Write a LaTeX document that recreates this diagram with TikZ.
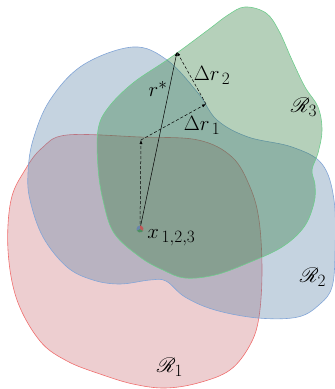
\documentclass[tikz,border=0pt]{standalone}
\usepackage{mathrsfs}
\usetikzlibrary{arrows.meta, positioning}
\DeclareMathSizes{22}{22}{18}{14}
\definecolor{cred}{HTML}{CC7379}
\definecolor{cblue}{HTML}{5981A6}
\definecolor{cgreen}{HTML}{2C793A}
\definecolor{ered}{HTML}{F06E6E}
\definecolor{eblue}{HTML}{82A5D7}
\definecolor{egreen}{HTML}{6ECD8C}
\tikzset{
  every picture/.style={x=1pt, y=-1pt, line width=0.6pt},
  region/.style 2 args={draw=#2, fill=#1, fill opacity=0.35},
  vec/.style={-{Latex[length=4pt, width=3pt]}, line width=0.5pt},
  dvec/.style={vec, densely dashed},
  lab/.style={font=\fontsize{22}{24}\selectfont, inner sep=1pt},
}

\begin{document}
\begin{tikzpicture}
  \useasboundingbox (0,0) rectangle (335,389);
  % the three regions
  \draw[region={cred}{ered}, smooth cycle, tension=0.6] plot coordinates {
    (67,135) (140,137) (198,140) (232,157) (250,187) (259,220) (262,270)
    (259,317) (250,345) (230,370) (198,383) (165,388) (133,384) (100,374)
    (67,361) (40,341) (17,300) (8,250) (11,200) (25,170) (42,148)};
  \draw[region={cblue}{eblue}, smooth cycle, tension=0.6] plot coordinates {
    (133,47) (167,60) (198,93) (217,120) (248,137) (292,147) (322,164)
    (334,200) (335,253) (332,287) (320,304) (298,317) (258,318) (215,310)
    (185,297) (166,281) (150,280) (120,284) (93,280) (67,267) (43,237)
    (30,200) (28,173) (33,140) (50,100) (83,65)};
  \draw[region={cgreen}{egreen}, smooth cycle, tension=0.6] plot coordinates {
    (245,7) (266,13) (279,31) (292,60) (305,87) (318,107) (322,130)
    (318,153) (312,170) (315,185) (314,203) (304,227) (282,247) (248,263)
    (215,275) (185,278) (163,270) (140,257) (114,233) (103,200) (98,167)
    (98,130) (108,108) (133,83) (170,58) (208,30) (228,15)};
  % points
  \coordinate (x) at (140,229);
  \coordinate (p1) at (141,140);
  \coordinate (p2) at (206,104);
  \coordinate (rs) at (177,52);
  \draw[dvec] (x) -- (p1);
  \draw[dvec] (p1) -- (p2);
  \draw[dvec] (p2) -- (rs);
  \draw[vec] (x) -- (rs);
  \fill[eblue!80!black] (x) -- ++(90:3.5pt) arc[start angle=90, end angle=210, radius=3.5pt] -- cycle;
  \fill[egreen!70!black] (x) -- ++(210:3.5pt) arc[start angle=210, end angle=330, radius=3.5pt] -- cycle;
  \fill[ered!80!black] (x) -- ++(330:3.5pt) arc[start angle=330, end angle=450, radius=3.5pt] -- cycle;
  % labels
  \node[lab, anchor=west] (xl) at (146,238) {$x_{\,1,2,3}$};
  \node[lab] (rl) at (158,89) {$r^*$};
  \node[lab] (d1) at (202,125) {$\Delta r_{\,1}$};
  \node[lab] (d2) at (212,75) {$\Delta r_{\,2}$};
  \node[lab] (R1) at (170,367) {$\mathscr{R}_1$};
  \node[lab] (R2) at (313,277) {$\mathscr{R}_2$};
  \node[lab] (R3) at (304,107) {$\mathscr{R}_3$};
\end{tikzpicture}
\end{document}
